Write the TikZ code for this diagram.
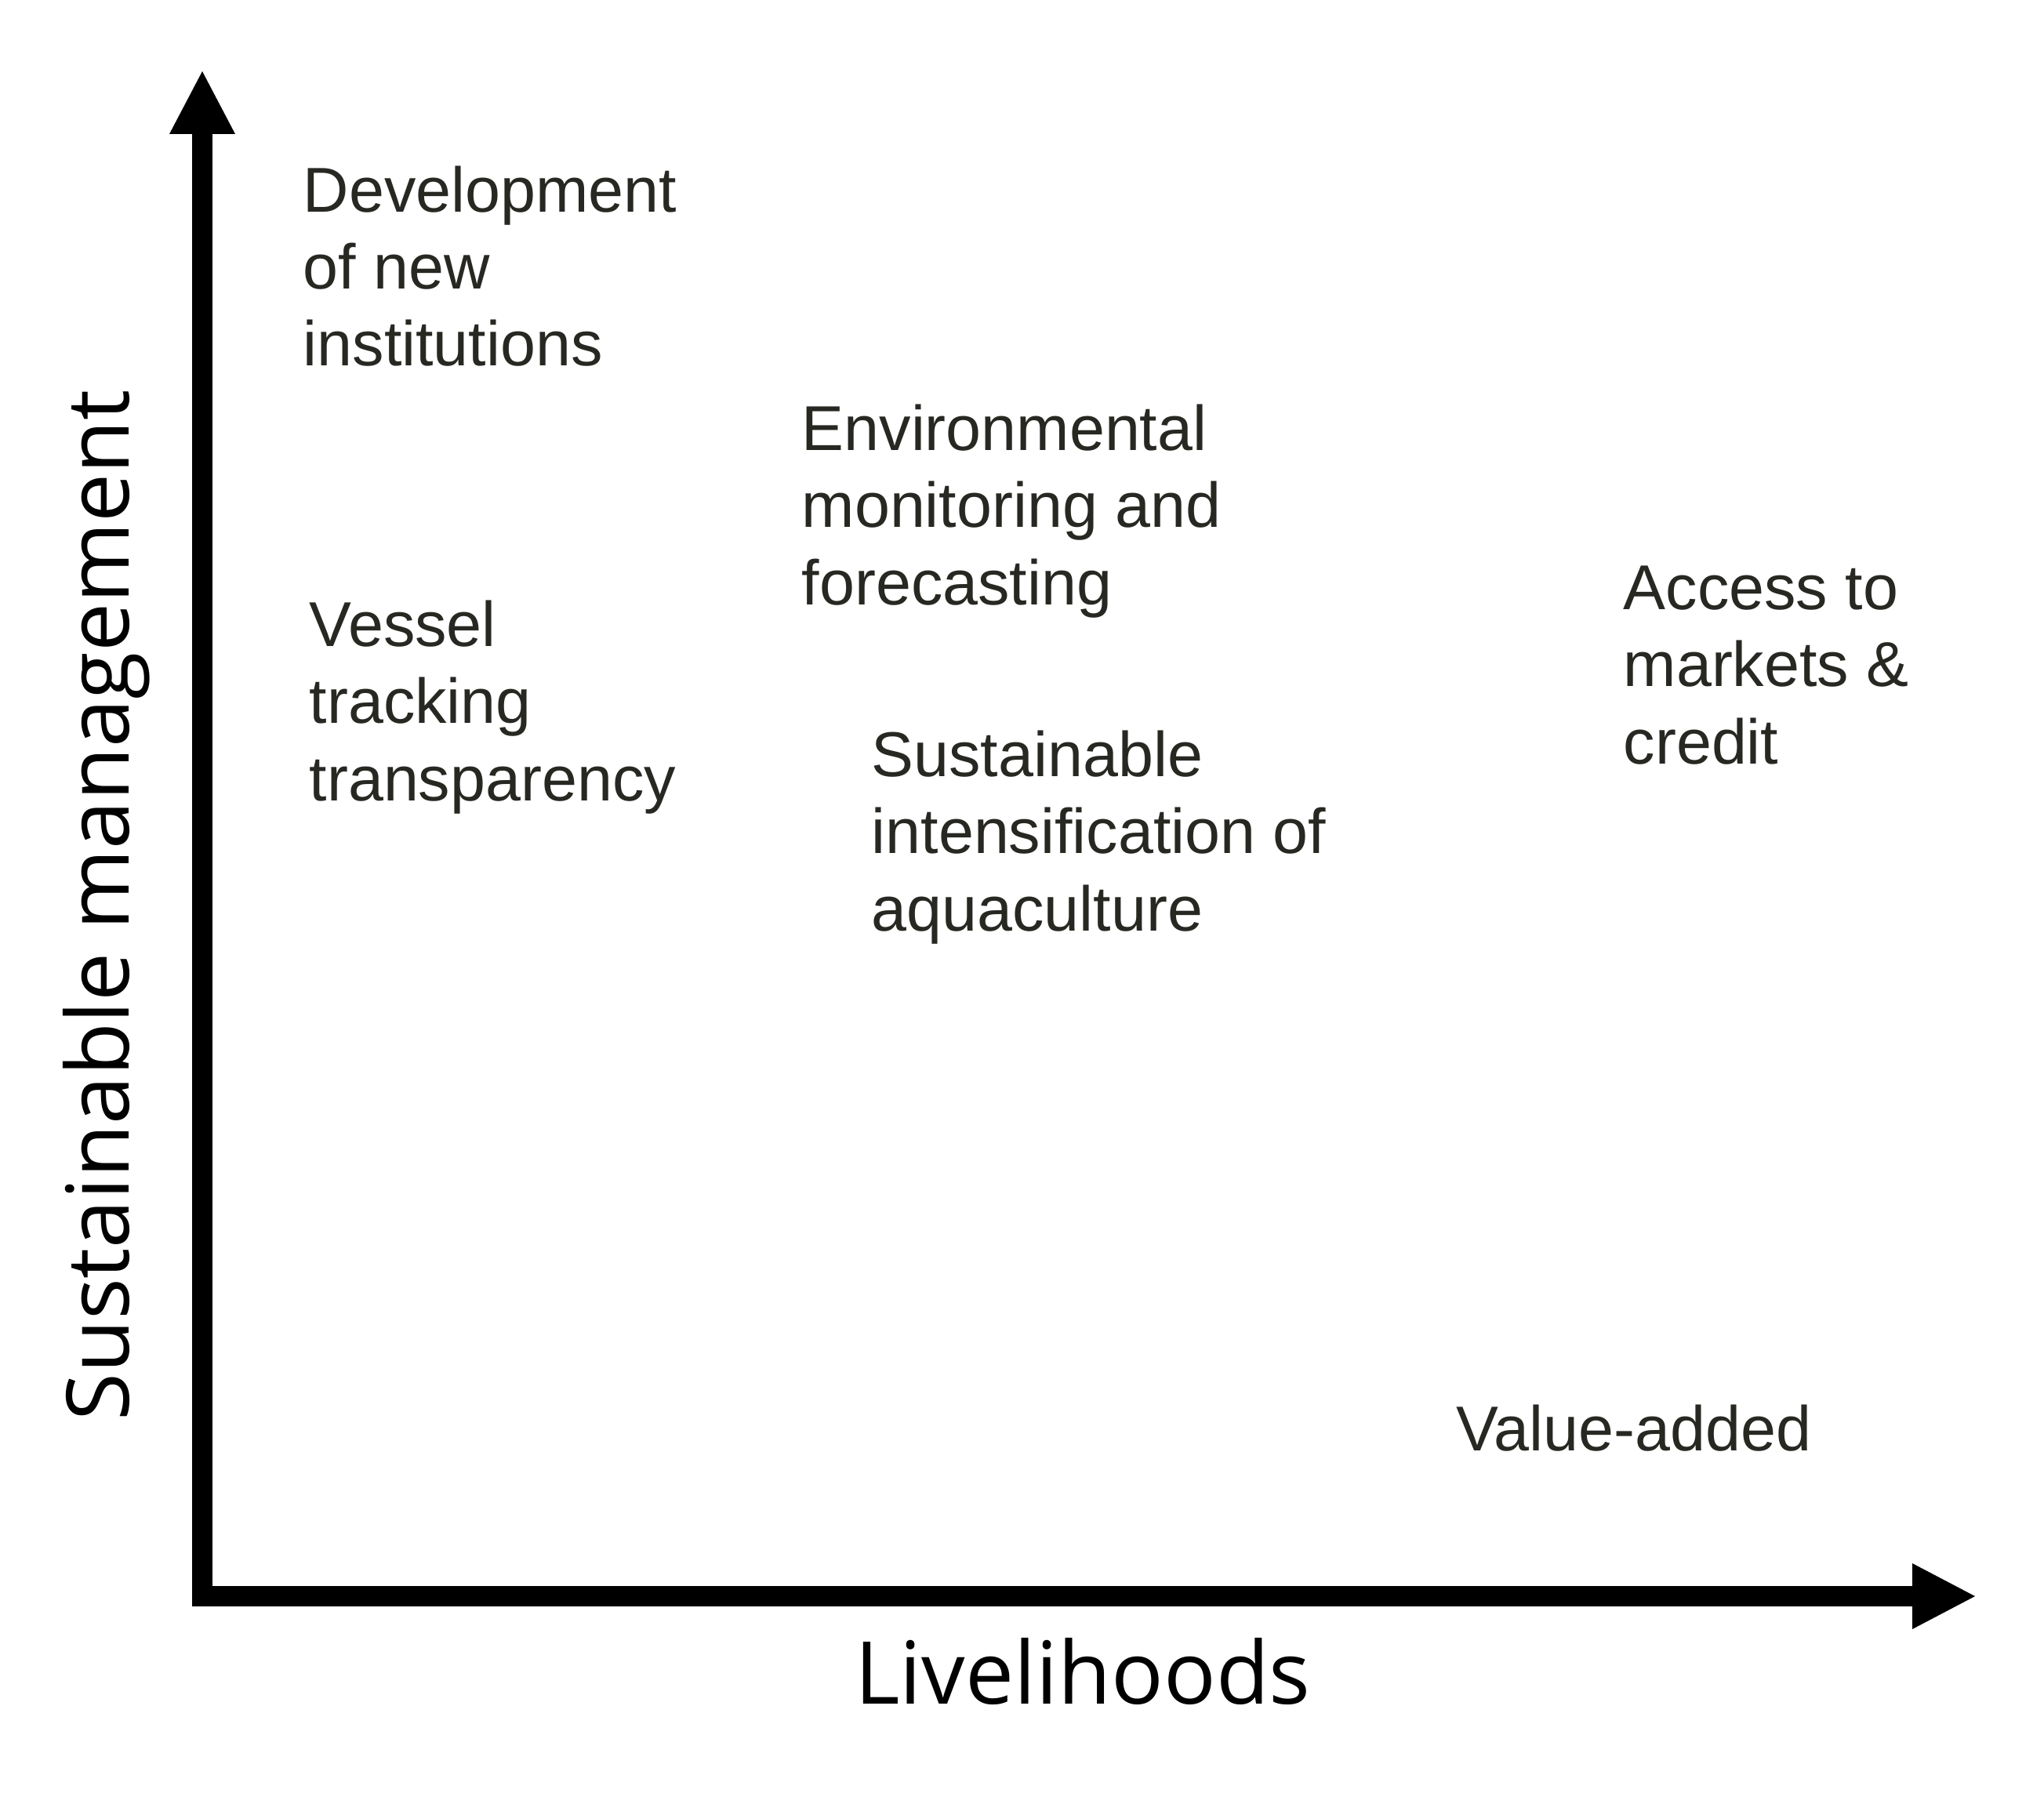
\documentclass[tikz,border=0pt]{standalone}
\usepackage{fontspec}
\setmainfont{Liberation Sans}
\newfontfamily\axisfont{Open Sans}
\usetikzlibrary{arrows.meta}
\definecolor{labelgray}{RGB}{40,40,35}
\begin{document}
\begin{tikzpicture}[line join=miter,
  axis/.style={line width=2.6mm, -{Triangle[length=8mm, width=8.4mm, line width=0pt]}},
  lbl/.style={anchor=base west, inner sep=0pt, align=left, text=labelgray,
    font=\fontsize{23}{27.9}\selectfont},
  axislbl/.style={anchor=base, inner sep=0pt, font=\axisfont\fontsize{31.5}{38}\selectfont}]
 \useasboundingbox (0,0) rectangle (26.07,-22.87);
 \coordinate (origin) at (2.58,-20.36);
 \coordinate (ytip) at (2.58,-0.91);
 \coordinate (xtip) at (25.19,-20.36);
 \draw[axis] ([yshift=-1.3mm]origin) -- (ytip);
 \draw[axis] ([xshift=-1.3mm]origin) -- (xtip);
 \node[axislbl] (xlabel) at (13.81,-21.73) {Livelihoods};
 \node[axislbl, rotate=90] (ylabel) at (1.64,-11.55) {Sustainable management};
 \node[lbl] (institutions) at (3.86,-4.67) {Development\\of new\\institutions};
 \node[lbl] (monitoring) at (10.22,-7.71) {Environmental\\monitoring and\\forecasting};
 \node[lbl] (tracking) at (3.94,-10.21) {Vessel\\tracking\\transparency};
 \node[lbl] (markets) at (20.70,-9.74) {Access to\\markets \&\\credit};
 \node[lbl] (aquaculture) at (11.11,-11.87) {Sustainable\\intensification of\\aquaculture};
 \node[lbl] (valueadded) at (18.57,-18.50) {Value-added};
\end{tikzpicture}
\end{document}
